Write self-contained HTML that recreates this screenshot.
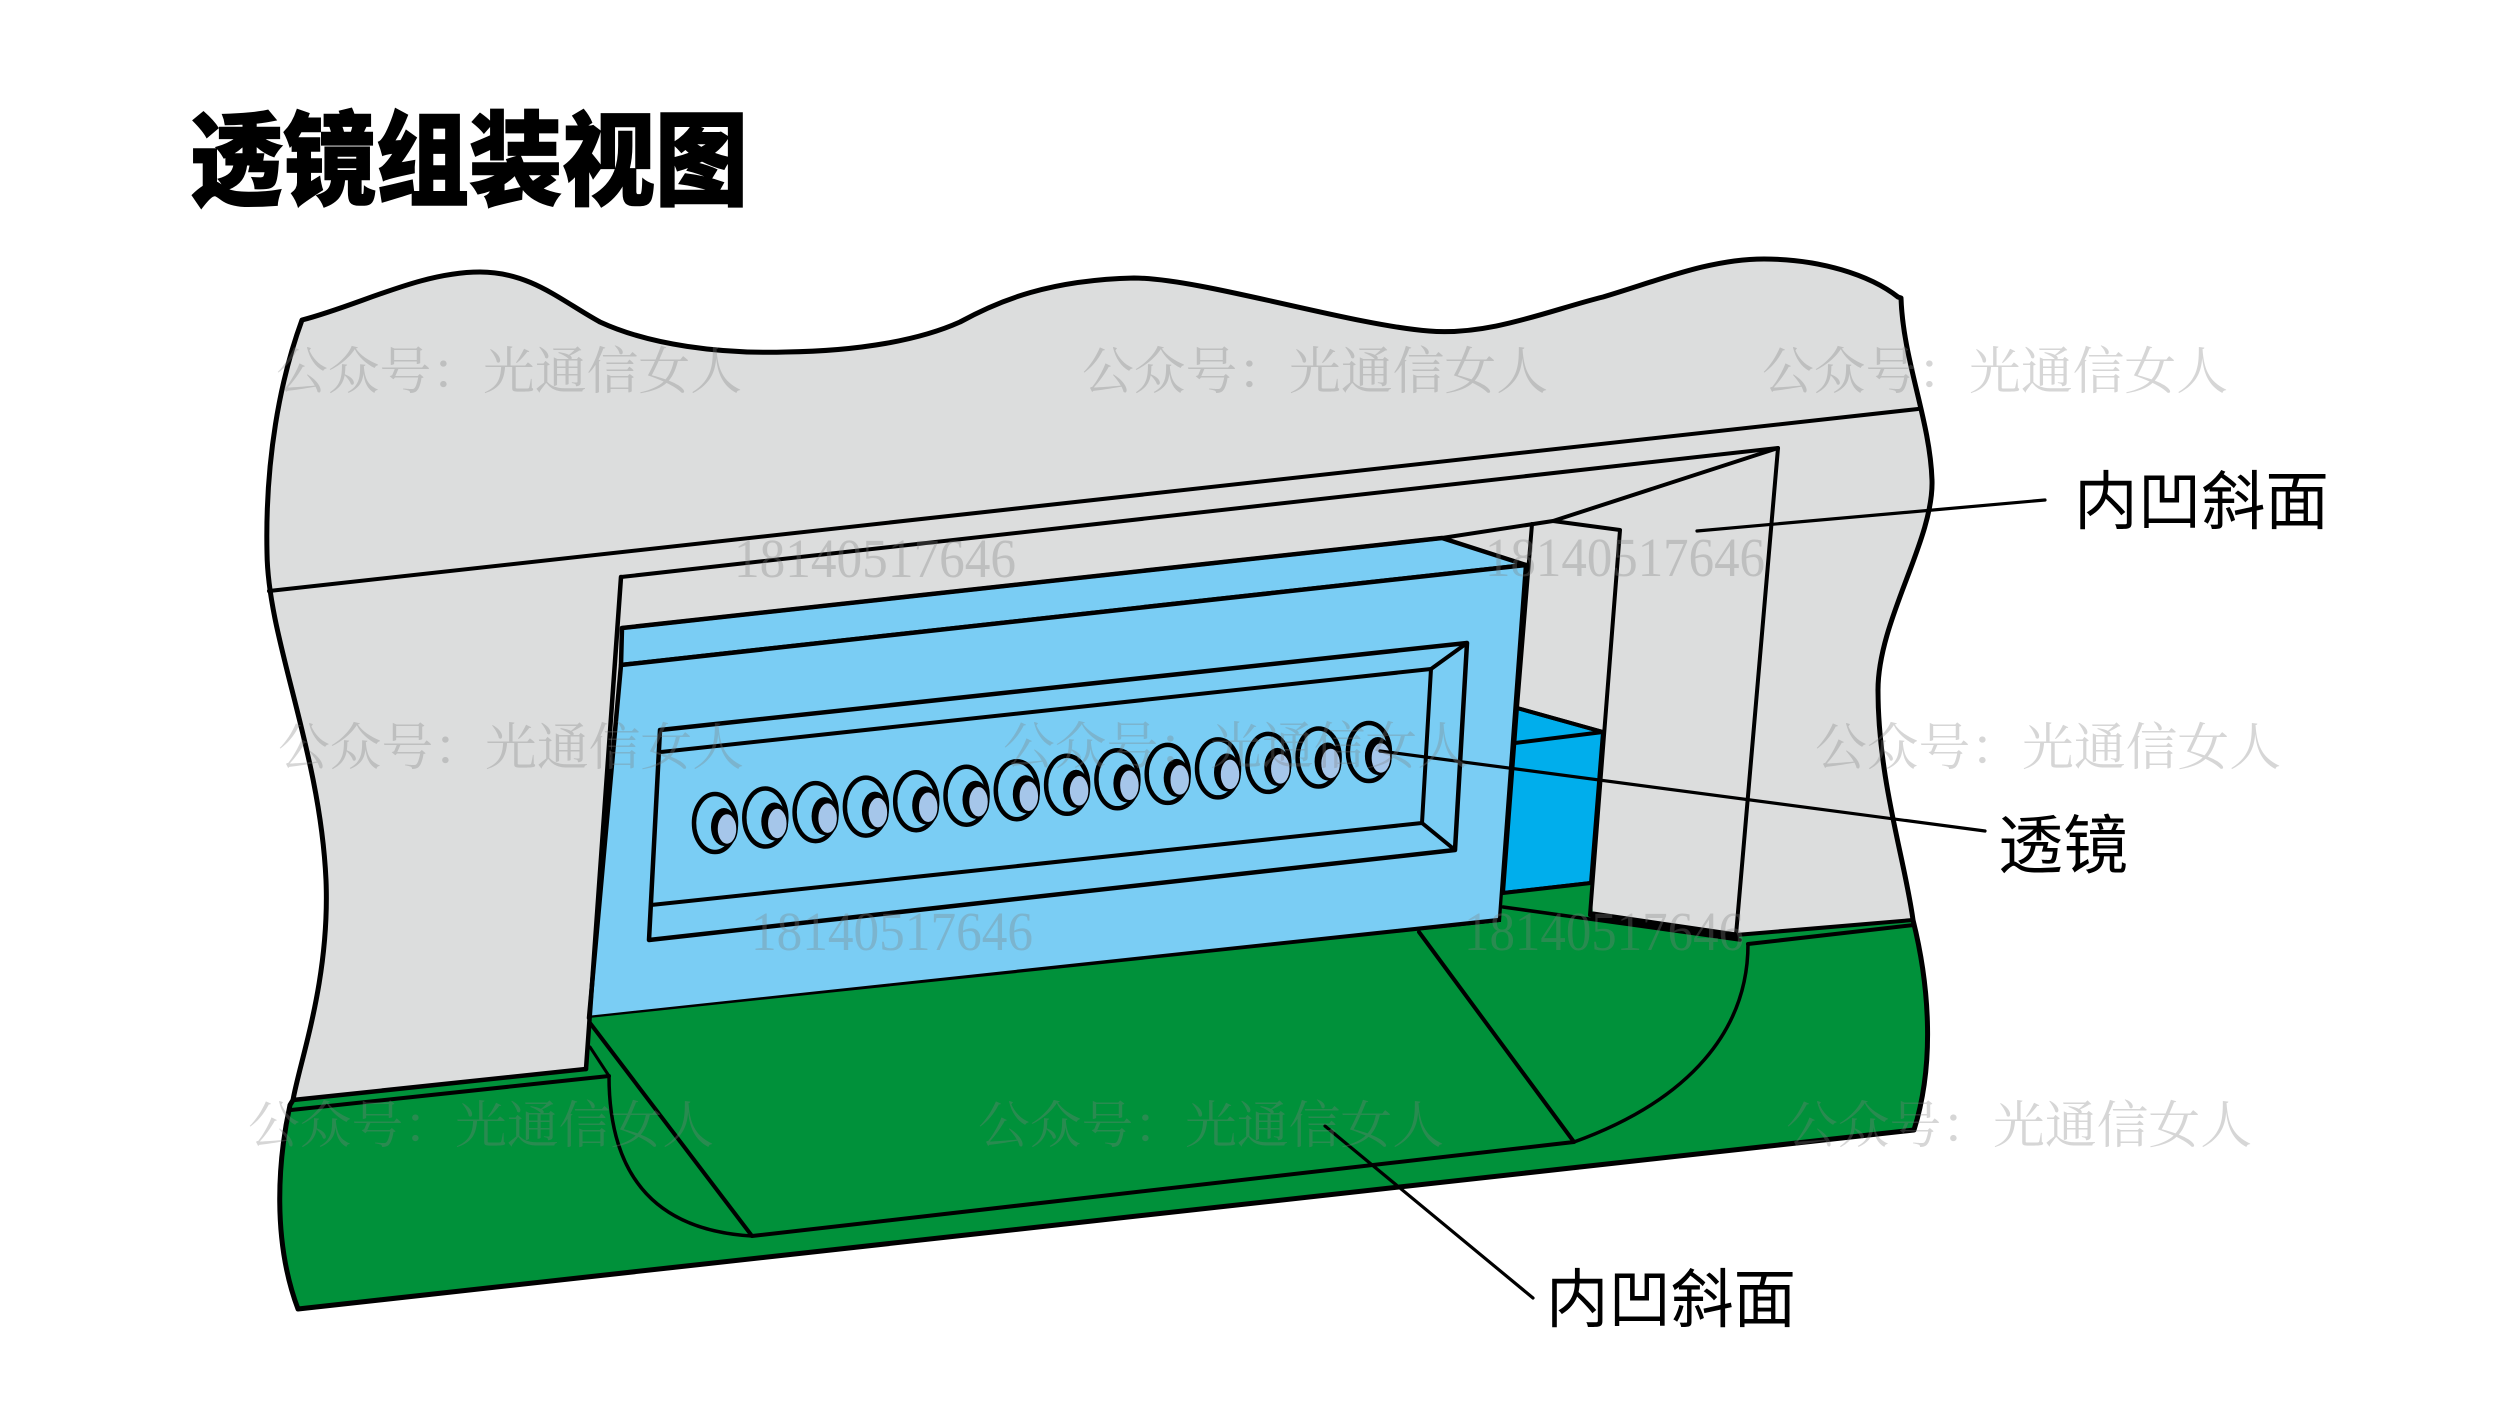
<!DOCTYPE html>
<html><head><meta charset="utf-8">
<style>html,body{margin:0;padding:0;background:#fff;width:2500px;height:1406px;overflow:hidden}svg{display:block}</style>
</head><body>
<svg width="2500" height="1406" viewBox="0 0 2500 1406" xmlns="http://www.w3.org/2000/svg">
<rect width="2500" height="1406" fill="#fff"/>
<!-- title -->
<text x="190" y="197" font-family="'Noto Sans CJK SC','WenQuanYi Zen Hei',sans-serif" font-size="102" font-weight="900" fill="#000" stroke="#000" stroke-width="1.5" textLength="558" lengthAdjust="spacingAndGlyphs">透镜组装视图</text>

<!-- gray wall fill -->
<path d="M302,320 C360,305 420,272 480,272 C530,272 560,300 600,322 C650,345 720,354 786,352 C860,351 920,340 960,322 C1000,300 1050,280 1134,278 C1200,278 1350,325 1429,331 C1490,336 1550,310 1603,297 C1660,280 1710,259 1764,259 C1820,259 1870,275 1898,297 L1901,298 C1903,360 1930,420 1932,480 C1934,540 1878,620 1878,690 C1878,780 1905,860 1913,920 L1736,936 L1593,915 L586,1069 L293,1100 C300,1060 330,980 326,880 C320,750 268,640 267,553 C265,460 280,380 302,320 Z" fill="#DCDDDD"/>

<!-- dark blue -->
<path d="M1517,708 L1603,732 L1591,883 L1503,893 Z" fill="#00AEEC" stroke="#000" stroke-width="4" stroke-linejoin="round"/>

<!-- blue block -->
<path d="M622,628 L1442,538 L1526,565 L621,665 Z" fill="#7ACDF4" stroke="#000" stroke-width="4.5" stroke-linejoin="round"/>
<path d="M621,665 L1526,565 L1500,920 L589,1018 Z" fill="#7ACDF4" stroke="#000" stroke-width="4.5" stroke-linejoin="round"/>

<!-- green base -->
<path d="M293,1100 L586,1069 L589,1018 L1501,922 L1503,893 L1591,883 L1593,915 L1736,936 L1913,920 C1928,980 1936,1060 1914,1130 L298,1309 C272,1240 278,1160 290,1105 Z" fill="#00913A"/>

<g fill="none" stroke="#000" stroke-linecap="round" stroke-linejoin="round">
<!-- outline -->
<path stroke-width="5" d="M302,320 C360,305 420,272 480,272 C530,272 560,300 600,322 C650,345 720,354 786,352 C860,351 920,340 960,322 C1000,300 1050,280 1134,278 C1200,278 1350,325 1429,331 C1490,336 1550,310 1603,297 C1660,280 1710,259 1764,259 C1820,259 1870,275 1898,297 L1901,298 C1903,360 1930,420 1932,480 C1934,540 1878,620 1878,690 C1878,780 1905,860 1913,920 C1928,980 1936,1060 1914,1130 L298,1309 C272,1240 278,1160 290,1105 L293,1100 C300,1060 330,980 326,880 C320,750 268,640 267,553 C265,460 280,380 302,320 Z"/>
<!-- wall lines -->
<path stroke-width="4" d="M269,591 L1918,409"/>
<path stroke-width="4" d="M621,577 L1778,448 L1736,935"/>
<path stroke-width="4" d="M1778,448 L1553,521"/>
<path stroke-width="4" d="M622,628 L1442,538 L1553,521 L1620,530 L1590,915"/>
<path stroke-width="4" d="M1532,524 L1517,708"/>
<path stroke-width="4" d="M1517,708 L1603,732 M1515,743 L1603,732 M1503,893 L1591,883"/>
<path stroke-width="4.5" d="M621,577 L586,1069"/>
<path stroke-width="4.5" d="M293,1100 L586,1069"/>
<path stroke-width="4" d="M291,1110 L609,1076"/>
<path stroke-width="3" d="M590,1047 L609,1076"/>
<path stroke-width="3.5" d="M609,1076 C609,1170 650,1230 752,1236"/>
<path stroke-width="4" d="M590,1023 L752,1236 L1574,1142 L1419,932"/>
<path stroke-width="3.5" d="M1748,944 C1748,1030 1690,1100 1574,1142"/>
<path stroke-width="4" d="M1736,935 L1913,920"/>
<path stroke-width="4" d="M1748,944 L1914,925"/>
<path stroke-width="3.5" d="M1503,907 L1740,940"/>
<path stroke-width="7" d="M1593,915 L1736,936"/>
<!-- window frame -->
<path stroke-width="4.5" d="M660,730 L1467,643 L1455,850 L649,940 Z"/>
<path stroke-width="4" d="M661,752 L1431,669 L1422,823 L651,905"/>
<path stroke-width="4" d="M1431,669 L1467,643 M1422,823 L1455,850"/>
</g>

<!-- lenses -->
<g id="lenses">
<g transform="translate(715,823)"><ellipse rx="21" ry="29" fill="none" stroke="#000" stroke-width="4.5"/><ellipse cx="9" cy="4" rx="13" ry="19" fill="#000"/><ellipse cx="12" cy="6" rx="10" ry="15.5" fill="#A5C6EA" stroke="#000" stroke-width="1.5"/></g>
<g transform="translate(765.3,817.5)"><ellipse rx="21" ry="29" fill="none" stroke="#000" stroke-width="4.5"/><ellipse cx="9" cy="4" rx="13" ry="19" fill="#000"/><ellipse cx="12" cy="6" rx="10" ry="15.5" fill="#A5C6EA" stroke="#000" stroke-width="1.5"/></g>
<g transform="translate(815.6,812.1)"><ellipse rx="21" ry="29" fill="none" stroke="#000" stroke-width="4.5"/><ellipse cx="9" cy="4" rx="13" ry="19" fill="#000"/><ellipse cx="12" cy="6" rx="10" ry="15.5" fill="#A5C6EA" stroke="#000" stroke-width="1.5"/></g>
<g transform="translate(865.9,806.6)"><ellipse rx="21" ry="29" fill="none" stroke="#000" stroke-width="4.5"/><ellipse cx="9" cy="4" rx="13" ry="19" fill="#000"/><ellipse cx="12" cy="6" rx="10" ry="15.5" fill="#A5C6EA" stroke="#000" stroke-width="1.5"/></g>
<g transform="translate(916.2,801.2)"><ellipse rx="21" ry="29" fill="none" stroke="#000" stroke-width="4.5"/><ellipse cx="9" cy="4" rx="13" ry="19" fill="#000"/><ellipse cx="12" cy="6" rx="10" ry="15.5" fill="#A5C6EA" stroke="#000" stroke-width="1.5"/></g>
<g transform="translate(966.5,795.7)"><ellipse rx="21" ry="29" fill="none" stroke="#000" stroke-width="4.5"/><ellipse cx="9" cy="4" rx="13" ry="19" fill="#000"/><ellipse cx="12" cy="6" rx="10" ry="15.5" fill="#A5C6EA" stroke="#000" stroke-width="1.5"/></g>
<g transform="translate(1016.8,790.2)"><ellipse rx="21" ry="29" fill="none" stroke="#000" stroke-width="4.5"/><ellipse cx="9" cy="4" rx="13" ry="19" fill="#000"/><ellipse cx="12" cy="6" rx="10" ry="15.5" fill="#A5C6EA" stroke="#000" stroke-width="1.5"/></g>
<g transform="translate(1067.1,784.8)"><ellipse rx="21" ry="29" fill="none" stroke="#000" stroke-width="4.5"/><ellipse cx="9" cy="4" rx="13" ry="19" fill="#000"/><ellipse cx="12" cy="6" rx="10" ry="15.5" fill="#A5C6EA" stroke="#000" stroke-width="1.5"/></g>
<g transform="translate(1117.4,779.3)"><ellipse rx="21" ry="29" fill="none" stroke="#000" stroke-width="4.5"/><ellipse cx="9" cy="4" rx="13" ry="19" fill="#000"/><ellipse cx="12" cy="6" rx="10" ry="15.5" fill="#A5C6EA" stroke="#000" stroke-width="1.5"/></g>
<g transform="translate(1167.7,773.9)"><ellipse rx="21" ry="29" fill="none" stroke="#000" stroke-width="4.5"/><ellipse cx="9" cy="4" rx="13" ry="19" fill="#000"/><ellipse cx="12" cy="6" rx="10" ry="15.5" fill="#A5C6EA" stroke="#000" stroke-width="1.5"/></g>
<g transform="translate(1218,768.4)"><ellipse rx="21" ry="29" fill="none" stroke="#000" stroke-width="4.5"/><ellipse cx="9" cy="4" rx="13" ry="19" fill="#000"/><ellipse cx="12" cy="6" rx="10" ry="15.5" fill="#A5C6EA" stroke="#000" stroke-width="1.5"/></g>
<g transform="translate(1268.3,762.9)"><ellipse rx="21" ry="29" fill="none" stroke="#000" stroke-width="4.5"/><ellipse cx="9" cy="4" rx="13" ry="19" fill="#000"/><ellipse cx="12" cy="6" rx="10" ry="15.5" fill="#A5C6EA" stroke="#000" stroke-width="1.5"/></g>
<g transform="translate(1318.6,757.5)"><ellipse rx="21" ry="29" fill="none" stroke="#000" stroke-width="4.5"/><ellipse cx="9" cy="4" rx="13" ry="19" fill="#000"/><ellipse cx="12" cy="6" rx="10" ry="15.5" fill="#A5C6EA" stroke="#000" stroke-width="1.5"/></g>
<g transform="translate(1368.9,752)"><ellipse rx="21" ry="29" fill="none" stroke="#000" stroke-width="4.5"/><ellipse cx="9" cy="4" rx="13" ry="19" fill="#000"/><ellipse cx="12" cy="6" rx="10" ry="15.5" fill="#A5C6EA" stroke="#000" stroke-width="1.5"/></g>
</g>

<!-- leader lines -->
<g stroke="#000" stroke-width="3.2" stroke-linecap="round" fill="none">
<path d="M1697,531 L2045,500"/>
<path d="M1380,751 L1985,831"/>
<path d="M1325,1126 L1533,1298"/>
</g>

<!-- labels -->
<g font-family="'Noto Sans CJK SC','WenQuanYi Zen Hei',sans-serif" font-size="64" fill="#000">
<text x="2074" y="524" textLength="255" lengthAdjust="spacingAndGlyphs">内凹斜面</text>
<text x="1998" y="868" textLength="130" lengthAdjust="spacingAndGlyphs">透镜</text>
<text x="1546" y="1322" textLength="250" lengthAdjust="spacingAndGlyphs">内凹斜面</text>
</g>

<!-- watermarks -->
<g font-family="'Noto Serif CJK SC','Noto Sans CJK SC',serif" font-size="51" fill="#7f7f7f" fill-opacity="0.32">
<text x="276" y="389" textLength="466" lengthAdjust="spacingAndGlyphs">公众号：光通信女人</text>
<text x="1082" y="389" textLength="466" lengthAdjust="spacingAndGlyphs">公众号：光通信女人</text>
<text x="1762" y="389" textLength="466" lengthAdjust="spacingAndGlyphs">公众号：光通信女人</text>
<text x="278" y="765" textLength="466" lengthAdjust="spacingAndGlyphs">公众号：光通信女人</text>
<text x="1003" y="764" textLength="466" lengthAdjust="spacingAndGlyphs">公众号：光通信女人</text>
<text x="1815" y="765" textLength="466" lengthAdjust="spacingAndGlyphs">公众号：光通信女人</text>
<text x="248" y="1143" textLength="466" lengthAdjust="spacingAndGlyphs">公众号：光通信女人</text>
<text x="978" y="1143" textLength="466" lengthAdjust="spacingAndGlyphs">公众号：光通信女人</text>
<text x="1786" y="1143" textLength="466" lengthAdjust="spacingAndGlyphs">公众号：光通信女人</text>
</g>
<g font-family="'Liberation Serif',serif" font-size="55" fill="#7f7f7f" fill-opacity="0.32">
<text x="734" y="577" textLength="282" lengthAdjust="spacingAndGlyphs">18140517646</text>
<text x="1485" y="576" textLength="280" lengthAdjust="spacingAndGlyphs">18140517646</text>
<text x="751" y="950" textLength="282" lengthAdjust="spacingAndGlyphs">18140517646</text>
<text x="1464" y="950" textLength="280" lengthAdjust="spacingAndGlyphs">18140517646</text>
</g>
</svg>
</body></html>
